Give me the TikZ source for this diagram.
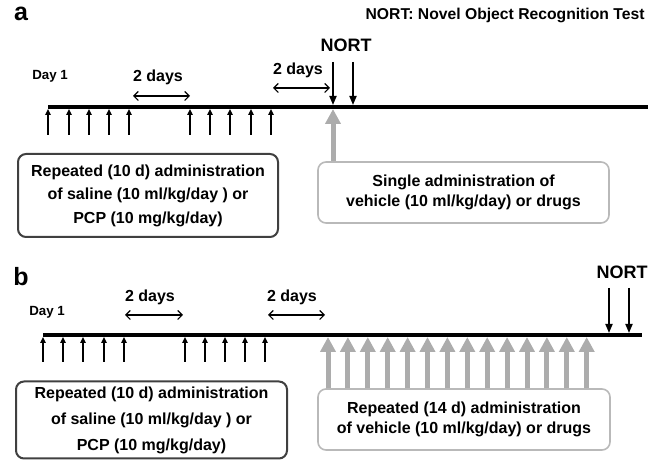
\documentclass[tikz,border=0pt]{standalone}
\usepackage{fontspec}
\setmainfont{Liberation Sans}
\usetikzlibrary{arrows.meta,positioning}

\begin{document}
\begin{tikzpicture}[x=1pt,y=-1pt,
  panel/.style={font=\bfseries\fontsize{25}{27}\selectfont},
  keytext/.style={font=\bfseries\fontsize{15.7}{18}\selectfont},
  nort/.style={font=\bfseries\fontsize{18}{20}\selectfont},
  daylbl/.style={font=\bfseries\fontsize{13.3}{15}\selectfont},
  gap/.style={font=\bfseries\fontsize{16}{18}\selectfont},
  timeline/.style={line width=3.5pt},
  tick/.style={line width=1.6pt,-{Triangle[width=5.5pt,length=6pt]}},
  test/.style={line width=1.8pt,-{Triangle[width=7pt,length=9pt]}},
  span/.style={line width=1.1pt,{Straight Barb[length=4.5pt,width=9pt]}-{Straight Barb[length=4.5pt,width=9pt]}},
  drug/.style={line width=5pt,draw=gray!65,-{Triangle[width=15pt,length=15pt]}},
  pcpbox/.style={draw=black!75,line width=2pt,rounded corners=8pt,align=center,
    inner sep=0pt,font=\bfseries\fontsize{16}{23.5}\selectfont},
  vehbox/.style={draw=gray!55,line width=1.6pt,rounded corners=8pt,align=center,
    inner sep=0pt,font=\bfseries\fontsize{16}{20}\selectfont}]
\useasboundingbox (0,0) rectangle (657,462);

% ---- panel a
\node[panel] (pa) at (21,14) {a};
\node[keytext,anchor=east] (key) at (648,15) {NORT: Novel Object Recognition Test};
\coordinate (la0) at (48,107);
\coordinate (la1) at (648,107);
\draw[timeline] (la0) -- (la1);
\node[daylbl] (daya) at (50,76) {Day 1};
\foreach \x [count=\i] in {48,69,89,109,129,190,210,230,251,271}{
  \coordinate (sa\i) at (\x,135);
  \coordinate (ea\i) at (\x,109);
  \draw[tick] (sa\i) -- (ea\i);
}
\node[gap] (gapa1) at (158,77) {2 days};
\coordinate (ga1l) at (133,96); \coordinate (ga1r) at (190,96);
\draw[span] (ga1l) -- (ga1r);
\node[gap] (gapa2) at (298,70) {2 days};
\coordinate (ga2l) at (273,88); \coordinate (ga2r) at (330,88);
\draw[span] (ga2l) -- (ga2r);
\node[nort] (norta) at (346,45) {NORT};
\foreach \x [count=\i] in {333,353}{
  \coordinate (na\i) at (\x,62);
  \coordinate (ma\i) at (\x,105);
  \draw[test] (na\i) -- (ma\i);
}
\node[pcpbox,minimum width=260pt,minimum height=83pt] (pcpa) at (148,195.5)
  {Repeated (10 d) administration\\of saline (10 ml/kg/day ) or\\PCP (10 mg/kg/day)};
\node[vehbox,minimum width=291pt,minimum height=61pt] (veha) at (463.5,192.5)
  {Single administration of\\vehicle (10 ml/kg/day) or drugs};
\coordinate (da) at (333,109);
\draw[drug] (veha.north -| da) -- (da);

% ---- panel b
\node[panel] (pb) at (21,277) {b};
\coordinate (lb0) at (43,335);
\coordinate (lb1) at (642,335);
\draw[timeline] (lb0) -- (lb1);
\node[daylbl] (dayb) at (47,312) {Day 1};
\foreach \x [count=\i] in {43,63,83,104,124,185,205,225,245,265}{
  \coordinate (sb\i) at (\x,362);
  \coordinate (eb\i) at (\x,337);
  \draw[tick] (sb\i) -- (eb\i);
}
\node[gap] (gapb1) at (150,297) {2 days};
\coordinate (gb1l) at (125,315); \coordinate (gb1r) at (183,315);
\draw[span] (gb1l) -- (gb1r);
\node[gap] (gapb2) at (292,297) {2 days};
\coordinate (gb2l) at (268,315); \coordinate (gb2r) at (325,315);
\draw[span] (gb2l) -- (gb2r);
\node[nort] (nortb) at (622,272) {NORT};
\foreach \x [count=\i] in {609,629}{
  \coordinate (nb\i) at (\x,288);
  \coordinate (mb\i) at (\x,333);
  \draw[test] (nb\i) -- (mb\i);
}
\node[pcpbox,minimum width=271pt,minimum height=77pt,
  font=\bfseries\fontsize{16}{26}\selectfont] (pcpb) at (151.5,420)
  {Repeated (10 d) administration\\of saline (10 ml/kg/day ) or\\PCP (10 mg/kg/day)};
\node[vehbox,minimum width=292pt,minimum height=61pt] (vehb) at (464,419.5)
  {Repeated (14 d) administration\\of vehicle (10 ml/kg/day) or drugs};
\foreach \i in {0,...,13}{
  \coordinate (db\i) at ({328+19.9*\i},337);
  \draw[drug] (vehb.north -| db\i) -- (db\i);
}
\end{tikzpicture}
\end{document}
